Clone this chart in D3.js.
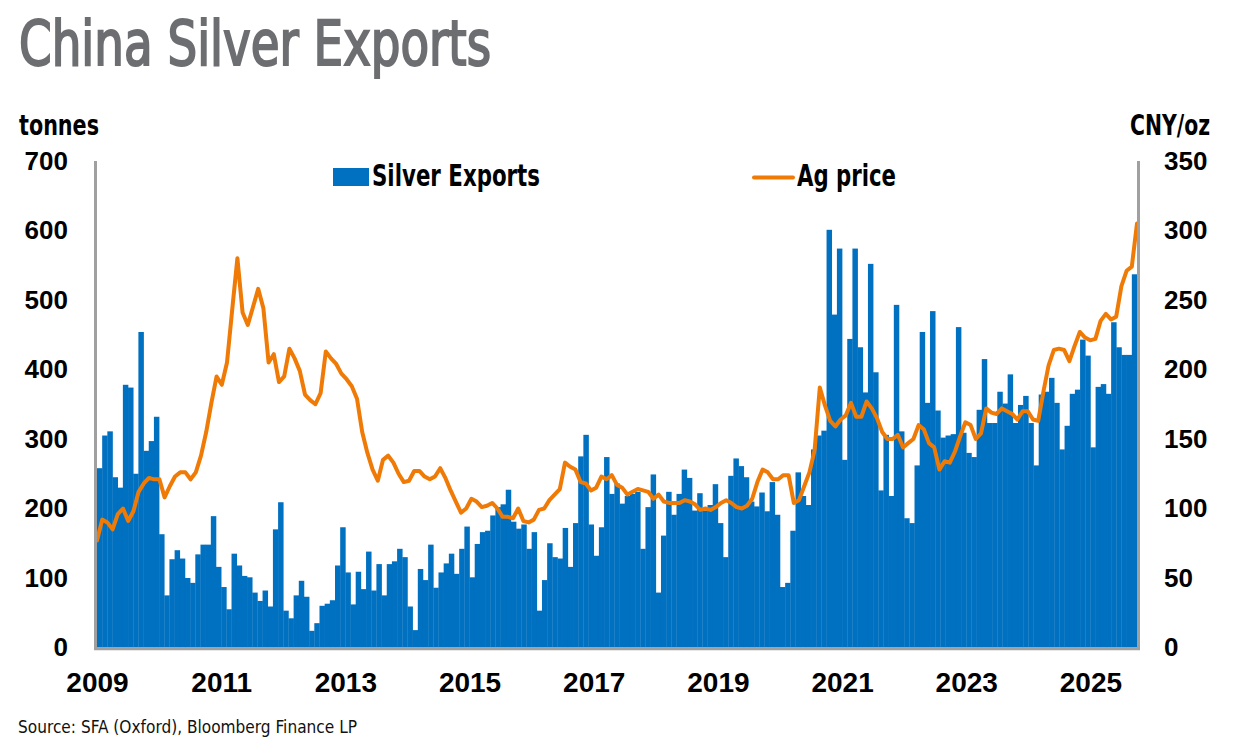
<!DOCTYPE html>
<html>
<head>
<meta charset="utf-8">
<script src="https://cdn.jsdelivr.net/npm/d3@7"></script>
<style>
  html, body { margin: 0; padding: 0; background: #fff; }
  svg { display: block; }
  .narrow { font-family: "Liberation Sans Narrow", "Arial Narrow", "DejaVu Sans Condensed", sans-serif; }
  .tick text { font-family: "Liberation Sans", Arial, sans-serif; font-weight: bold; fill: #000; }
</style>
</head>
<body>
<div id="chart"></div>
<script>
// monthly, Jan 2009 .. Sep 2025
var exportsTonnes = [
    258, 305, 311, 245, 230, 378, 374, 250, 454, 283, 297, 332,   // 2009
    163,  75, 127, 140, 128, 100,  93, 134, 148, 148, 189, 116,   // 2010
     87,  55, 135, 118, 103, 101,  79,  67,  82,  59, 170, 209,   // 2011
     53,  42,  75,  96,  73,  24,  35,  60,  63,  68, 118, 173,   // 2012
    108,  62, 109,  84, 138,  82, 120,  75, 120, 124, 142, 130,   // 2013
     59,  25, 113,  97, 148,  86, 108, 121, 135, 106, 142, 174,   // 2014
    101, 149, 166, 168, 190, 202, 206, 227, 181, 171, 177, 142,   // 2015
    166,  53,  97, 150, 130, 128, 172, 116, 179, 275, 306, 177,   // 2016
    132, 173, 274, 221, 236, 207, 218, 221, 224, 142, 202, 249,   // 2017
     79, 161, 224, 191, 221, 256, 244, 197, 222, 197, 205, 235,   // 2018
    179, 130, 247, 272, 261, 245, 210, 203, 223, 196, 238, 191,   // 2019
     87,  93, 168, 252, 218, 205, 285, 305, 312, 601, 479, 574,   // 2020
    270, 444, 574, 432, 367, 552, 396, 226, 306, 218, 493, 311,   // 2021
    186, 179, 262, 454, 352, 484, 341, 302, 305, 307, 461, 309,   // 2022
    280, 274, 342, 415, 323, 323, 368, 351, 393, 323, 349, 362,   // 2023
    323, 262, 364, 368, 388, 352, 285, 319, 365, 371, 443, 420,   // 2024
    288, 375, 379, 365, 468, 432, 421, 421, 537                   // 2025
];

var agPrice = [
     77,  92,  90,  85,  96, 100,  91,  98, 112, 118, 122, 121,   // 2009
    121, 108, 116, 123, 126, 126, 121, 126, 138, 155, 176, 195,   // 2010
    189, 205, 243, 280, 241, 232, 245, 258, 244, 205, 211, 191,   // 2011
    195, 215, 208, 199, 182, 178, 175, 183, 213, 208, 204, 197,   // 2012
    193, 188, 179, 155, 140, 128, 120, 135, 138, 133, 125, 119,   // 2013
    120, 127, 127, 123, 121, 123, 129, 122, 113, 105,  97, 100,   // 2014
    107, 105, 101, 102, 104, 100,  94,  94,  93, 100,  91,  90,   // 2015
     92,  99, 100, 106, 110, 114, 133, 130, 128, 119, 118, 113,   // 2016
    115, 123, 121, 124, 117, 115, 110, 112, 114, 113, 112, 107,   // 2017
    110, 105, 104, 104, 104, 106, 105, 103,  99, 100,  99, 101,   // 2018
    104, 106, 104, 101, 100, 102, 107, 119, 128, 126, 121, 121,   // 2019
    124, 124, 104, 106, 116, 126, 142, 187, 174, 163, 159, 164,   // 2020
    167, 176, 166, 166, 177, 172, 165, 155, 150, 150, 153, 144,   // 2021
    147, 150, 160, 157, 147, 144, 128, 134, 133, 141, 152, 162,   // 2022
    160, 150, 154, 172, 169, 168, 172, 170, 168, 164, 170, 170,   // 2023
    164, 163, 184, 203, 214, 215, 214, 206, 217, 227, 223, 221,   // 2024
    222, 235, 240, 236, 238, 260, 271, 274, 305                   // 2025
];

var yearLabels = ['2009', '2011', '2013', '2015', '2017', '2019', '2021', '2023', '2025'];
var leftTicks = [0, 100, 200, 300, 400, 500, 600, 700];
var rightTicks = [0, 50, 100, 150, 200, 250, 300, 350];

var WIDTH = 1235, HEIGHT = 749;
var PLOT = {left: 97, right: 1137, top: 161, bottom: 647.5};
var BAR_COLOR = '#0070c0';
var LINE_COLOR = '#ef7a06';
var FRAME_COLOR = '#a0a0a0';

var svg = d3.select('#chart').append('svg')
    .attr('width', WIDTH)
    .attr('height', HEIGHT);

// condensed text: no narrow face installed, so squeeze to the reference width
function narrowText(sel, x, y, size, width, str) {
    return sel.append('text')
        .attr('class', 'narrow')
        .attr('x', x)
        .attr('y', y)
        .attr('font-size', size)
        .attr('textLength', width)
        .attr('lengthAdjust', 'spacingAndGlyphs')
        .text(str);
}

// scales
var n = exportsTonnes.length;
var x = d3.scaleLinear().domain([0, n]).range([PLOT.left, PLOT.right]);
var xLine = d3.scaleLinear().domain([0, agPrice.length - 1]).range([PLOT.left, PLOT.right]);
var yLeft = d3.scaleLinear().domain([0, 700]).range([PLOT.bottom, PLOT.top]);
var yRight = d3.scaleLinear().domain([0, 350]).range([PLOT.bottom, PLOT.top]);

// title
narrowText(svg, 19, 65, 63, 472, 'China Silver Exports')
    .attr('fill', '#6d6e71')
    .attr('stroke', '#6d6e71')
    .attr('stroke-width', 2);

// unit labels
narrowText(svg, 19, 135, 29, 80, 'tonnes').attr('font-weight', 'bold');
narrowText(svg, 1130, 135, 28, 80, 'CNY/oz').attr('font-weight', 'bold');

// bars
svg.append('g').selectAll('rect')
    .data(exportsTonnes)
    .enter().append('rect')
    .attr('x', function(d, i) { return x(i); })
    .attr('width', function(d, i) { return x(i + 1) - x(i) + 0.3; })
    .attr('y', function(d) { return yLeft(d); })
    .attr('height', function(d) { return yLeft(0) - yLeft(d); })
    .attr('fill', BAR_COLOR);

// price line
var priceLine = d3.line()
    .x(function(d, i) { return xLine(i); })
    .y(function(d) { return yRight(d); });

svg.append('path')
    .attr('d', priceLine(agPrice))
    .attr('fill', 'none')
    .attr('stroke', LINE_COLOR)
    .attr('stroke-width', 4)
    .attr('stroke-linejoin', 'round')
    .attr('stroke-linecap', 'round');

// frame: left, right, bottom
var frame = svg.append('g')
    .attr('stroke', FRAME_COLOR)
    .attr('stroke-width', 3);
frame.append('line').attr('x1', 95.5).attr('x2', 95.5).attr('y1', PLOT.top).attr('y2', 650);
frame.append('line').attr('x1', 1138.5).attr('x2', 1138.5).attr('y1', PLOT.top).attr('y2', 650);
frame.append('line').attr('x1', 94).attr('x2', 1140).attr('y1', 648.8).attr('y2', 648.8);

// axes
var leftAxis = d3.axisLeft(yLeft)
    .tickValues(leftTicks)
    .tickSize(0)
    .tickPadding(28);
svg.append('g')
    .attr('transform', 'translate(96,0)')
    .call(leftAxis)
    .call(function(g) { g.select('.domain').remove(); })
    .selectAll('text').attr('font-size', 26);

var rightAxis = d3.axisRight(yRight)
    .tickValues(rightTicks)
    .tickSize(0)
    .tickPadding(25.5);
svg.append('g')
    .attr('transform', 'translate(1138.5,0)')
    .call(rightAxis)
    .call(function(g) { g.select('.domain').remove(); })
    .selectAll('text').attr('font-size', 26);

var yearTicks = yearLabels.map(function(y) { return (+y - 2009) * 12; });
var bottomAxis = d3.axisBottom(x)
    .tickValues(yearTicks)
    .tickFormat(function(d, i) { return yearLabels[i]; })
    .tickSize(0)
    .tickPadding(24);
svg.append('g')
    .attr('transform', 'translate(0,648)')
    .call(bottomAxis)
    .call(function(g) { g.select('.domain').remove(); })
    .selectAll('text').attr('font-size', 28);

// legend
var legend = svg.append('g').attr('font-weight', 'bold');
legend.append('rect')
    .attr('x', 333).attr('y', 168)
    .attr('width', 36).attr('height', 18)
    .attr('fill', BAR_COLOR);
narrowText(legend, 372, 186, 30, 168, 'Silver Exports');
legend.append('line')
    .attr('x1', 754).attr('x2', 793)
    .attr('y1', 177.5).attr('y2', 177.5)
    .attr('stroke', LINE_COLOR)
    .attr('stroke-width', 4)
    .attr('stroke-linecap', 'round');
narrowText(legend, 797, 186, 30, 99, 'Ag price');

// source
narrowText(svg, 18, 733, 18, 339, 'Source: SFA (Oxford), Bloomberg Finance LP')
    .attr('fill', '#111');
</script>
</body>
</html>
